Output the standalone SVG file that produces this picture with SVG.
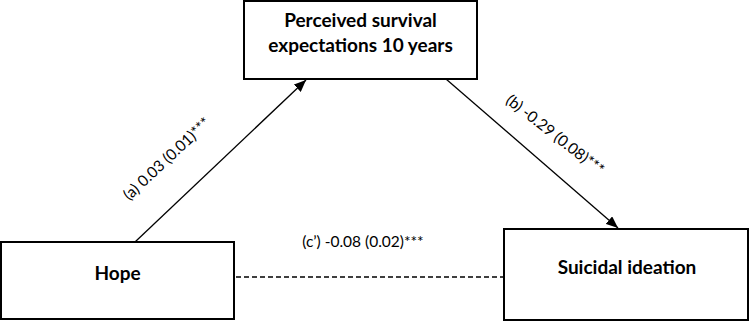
<svg xmlns="http://www.w3.org/2000/svg" width="749" height="322" viewBox="0 0 749 322">
<style>
.box{fill:#fff;stroke:#000;stroke-width:2}
.node{font-family:Lato,"Liberation Sans",sans-serif;font-weight:bold;font-size:19px;fill:#000;text-anchor:middle}
.lbl{font-family:Lato,"Liberation Sans",sans-serif;font-size:15.5px;fill:#000;text-anchor:middle}
.edge{stroke:#000;stroke-width:1.3;fill:none}
.dash{stroke:#000;stroke-width:1.6;stroke-dasharray:5 3;fill:none}
</style>
<defs>
<marker id="arr" markerWidth="12" markerHeight="10" refX="12" refY="5" orient="auto" markerUnits="userSpaceOnUse">
<path d="M0,0 L12,5 L0,10 Z" fill="#000"/>
</marker>
</defs>
<rect width="749" height="322" fill="#fff"/>
<g id="connectors">
<line class="edge" x1="135" y1="242" x2="306" y2="80" marker-end="url(#arr)"/>
<line class="edge" x1="446" y1="79" x2="618" y2="228" marker-end="url(#arr)"/>
<line class="dash" x1="236" y1="277" x2="503" y2="277"/>
<text class="lbl" transform="translate(167,159) rotate(-43)" y="5">(a) 0.03 (0.01)***</text>
<text class="lbl" transform="translate(555,135) rotate(38)" y="5">(b) -0.29 (0.08)***</text>
<text class="lbl" x="363" y="247">(c’) -0.08 (0.02)***</text>
</g>
<g id="node-perceived">
<rect class="box" x="244" y="1" width="233" height="78"/>
<text class="node" x="360.5" y="27">Perceived survival</text>
<text class="node" x="360.5" y="52">expectations 10 years</text>
</g>
<g id="node-hope">
<rect class="box" x="1" y="242" width="233" height="77"/>
<text class="node" x="117.5" y="280">Hope</text>
</g>
<g id="node-suicidal">
<rect class="box" x="504" y="229" width="244" height="91"/>
<text class="node" x="627" y="274">Suicidal ideation</text>
</g>
</svg>
